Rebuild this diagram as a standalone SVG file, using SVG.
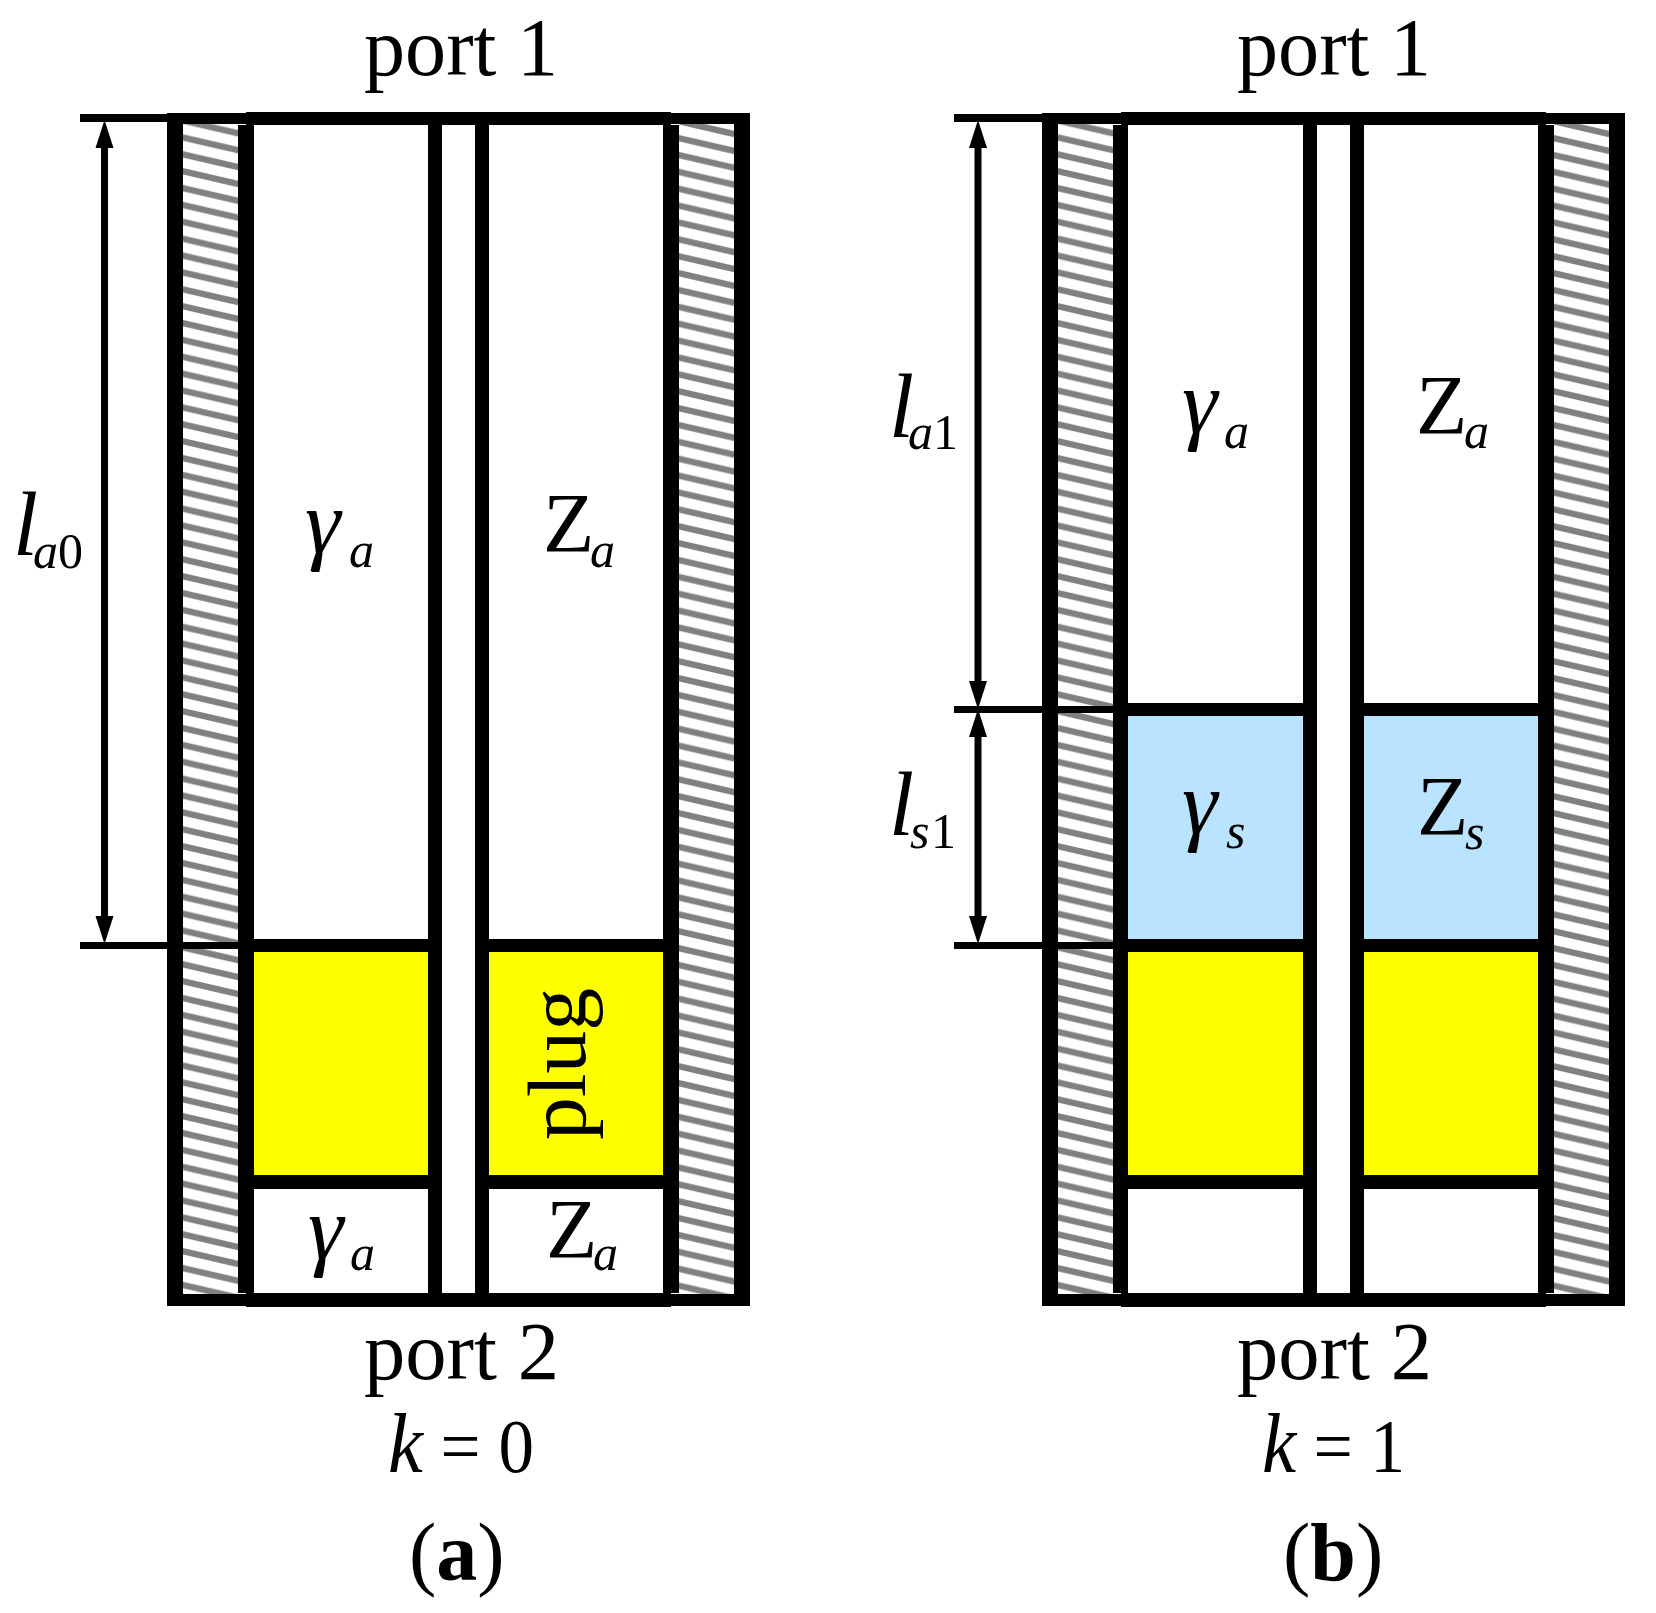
<svg xmlns="http://www.w3.org/2000/svg" width="1656" height="1613" viewBox="0 0 1656 1613">
<style>
text{font-family:"Liberation Serif","Times New Roman",serif;fill:#000}
.t{font-size:82px}
.m{font-size:90px;font-style:italic}
.u{font-size:84px}
.k{font-size:76px}
.ki{font-size:84px;font-style:italic}
.p{font-size:82px}
.s{font-size:50px;font-style:italic}
.n{font-size:50px}
.b{font-weight:bold}
.wall{fill:#000}
.dim{stroke:#000;stroke-width:7;fill:none;marker-start:url(#head);marker-end:url(#head)}
.ext{fill:#000}
.hatch{fill:url(#stripes)}
.plug{fill:#ffff00}
.sub{fill:#b9e3ff}
</style>
<defs>
<pattern id="stripes" patternUnits="userSpaceOnUse" width="73.4" height="16.875">
<path d="M0 0L73.4 16.875V23.4L0 6.5ZM0 -16.875L73.4 0V6.5L0 -10.375Z" fill="#808080"/>
</pattern>
<marker id="head" markerUnits="userSpaceOnUse" markerWidth="30" markerHeight="20" refX="0" refY="10" orient="auto-start-reverse" overflow="visible">
<path d="M0 1L28 10L0 19Z" fill="#000"/>
</marker>
</defs>
<rect width="1656" height="1613" fill="#fff"/>

<g id="panel-a">
<rect class="hatch" x="0" y="6.6" width="55" height="1170" transform="translate(183,117.4)"/>
<rect class="hatch" x="0" y="5.9" width="55" height="1170" transform="translate(679,118.1)"/>
<rect class="plug" x="253" y="952" width="175" height="223"/>
<rect class="plug" x="489" y="952" width="175" height="223"/>
<path class="wall" d="M167 113H750V1306H167ZM183 124V1294H734V124Z" fill-rule="evenodd"/>
<path class="wall" d="M238 125h16V1293h-16ZM428 125h14V1293h-14ZM475 125h14V1293h-14ZM663 125h16V1293h-16ZM246 112H671V125H246ZM246 1293H671V1307H246ZM254 939H428V952H254ZM489 939H663V952H489ZM254 1175H428V1189H254ZM489 1175H663V1189H489Z"/>
<text class="u"><tspan class="m" x="305" y="553">γ</tspan><tspan class="s" x="349" y="567">a</tspan></text>
<text class="u"><tspan x="543" y="552">Z</tspan><tspan class="s" x="590" y="567">a</tspan></text>
<text class="t" transform="translate(585,1140) rotate(-90)" textLength="152" lengthAdjust="spacingAndGlyphs">plug</text>
<text class="u"><tspan class="m" x="308" y="1259">γ</tspan><tspan class="s" x="350" y="1270">a</tspan></text>
<text class="u"><tspan x="546" y="1258">Z</tspan><tspan class="s" x="593" y="1270">a</tspan></text>
</g>

<g id="panel-b">
<rect class="hatch" x="0" y="6.6" width="55" height="1170" transform="translate(1058,117.4)"/>
<rect class="hatch" x="0" y="5.9" width="55" height="1170" transform="translate(1554,118.1)"/>
<rect class="sub" x="1127" y="716" width="176" height="223"/>
<rect class="sub" x="1364" y="716" width="175" height="223"/>
<rect class="plug" x="1128" y="952" width="175" height="223"/>
<rect class="plug" x="1364" y="952" width="175" height="223"/>
<path class="wall" d="M1042 113H1625V1306H1042ZM1058 124V1294H1609V124Z" fill-rule="evenodd"/>
<path class="wall" d="M1113 125h15V1293h-15ZM1303 125h14V1293h-14ZM1350 125h14V1293h-14ZM1538 125h16V1293h-16ZM1121 112H1546V125H1121ZM1121 1293H1546V1307H1121ZM1128 703H1303V716H1128ZM1364 703H1538V716H1364ZM1128 939H1303V952H1128ZM1364 939H1538V952H1364ZM1128 1175H1303V1189H1128ZM1364 1175H1538V1189H1364Z"/>
<text class="u"><tspan class="m" x="1182" y="433">γ</tspan><tspan class="s" x="1224" y="448">a</tspan></text>
<text class="u"><tspan x="1416" y="434">Z</tspan><tspan class="s" x="1464" y="448">a</tspan></text>
<text class="u"><tspan class="m" x="1182" y="834">γ</tspan><tspan class="s" x="1226" y="848">s</tspan></text>
<text class="u"><tspan x="1417" y="835">Z</tspan><tspan class="s" x="1465" y="849">s</tspan></text>
</g>

<g id="connectors">
<path class="ext" d="M80 114H167V122H80ZM80 942H238V949H80ZM954 114H1042V122H954ZM954 706H1113V713H954ZM954 942H1113V949H954Z"/>
<line class="dim" x1="104.500" y1="148" x2="104.500" y2="916"/>
<line class="dim" x1="978" y1="148" x2="978" y2="681"/>
<line class="dim" x1="978" y1="737" x2="978" y2="916"/>
</g>

<g id="labels">
<text class="t" x="364" y="75" textLength="194" lengthAdjust="spacingAndGlyphs">port 1</text>
<text class="t" x="364" y="1379" textLength="195" lengthAdjust="spacingAndGlyphs">port 2</text>
<text class="k" x="388" y="1472" textLength="146" lengthAdjust="spacingAndGlyphs"><tspan class="ki">k</tspan> = 0</text>
<text class="p" x="409" y="1580">(<tspan class="b">a</tspan>)</text>
<text class="t" x="1237" y="75" textLength="194" lengthAdjust="spacingAndGlyphs">port 1</text>
<text class="t" x="1237" y="1379" textLength="195" lengthAdjust="spacingAndGlyphs">port 2</text>
<text class="k" x="1262" y="1472" textLength="143" lengthAdjust="spacingAndGlyphs"><tspan class="ki">k</tspan> = 1</text>
<text class="p" x="1283" y="1580">(<tspan class="b">b</tspan>)</text>
<text class="u"><tspan class="m" x="13" y="555">l</tspan><tspan class="s" x="33" y="568">a</tspan><tspan class="n" x="58" y="568">0</tspan></text>
<text class="u"><tspan class="m" x="889" y="437">l</tspan><tspan class="s" x="908" y="449">a</tspan><tspan class="n" x="933" y="449">1</tspan></text>
<text class="u"><tspan class="m" x="889" y="835">l</tspan><tspan class="s" x="910" y="848">s</tspan><tspan class="n" x="931" y="848">1</tspan></text>
</g>
</svg>
